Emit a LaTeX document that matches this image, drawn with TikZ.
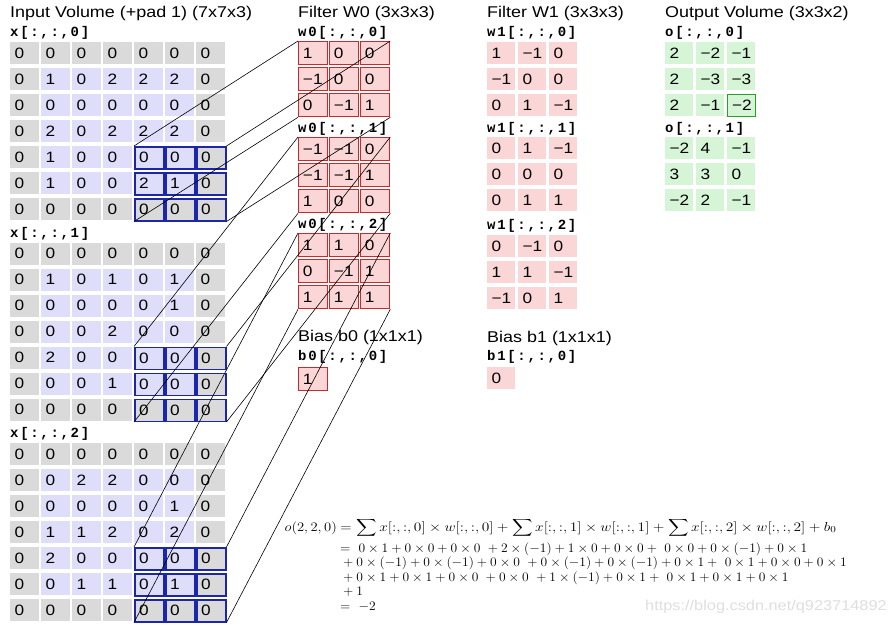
\RequirePackage{fix-cm}
\documentclass[tikz,border=0pt]{standalone}
\usepackage{exscale}
\usepackage[no-math]{fontspec}
\usepackage{graphicx}
\setmainfont{Liberation Sans}[FakeStretch=1.15]
\newfontfamily\monob{Liberation Mono}[LetterSpace=12]
\definecolor{padgray}{RGB}{218,218,218}
\definecolor{innerlav}{RGB}{222,222,250}
\definecolor{hlblue}{RGB}{28,38,168}
\definecolor{wfill}{RGB}{250,214,214}
\definecolor{wred}{RGB}{198,42,42}
\definecolor{ofill}{RGB}{214,245,214}
\definecolor{ogreen}{RGB}{40,160,40}
\newcommand\fxs[1]{\scalebox{1.04}[1]{#1}}
\newcommand\fxl[1]{\scalebox{1.185}[1]{#1}}
\newcommand\inrow[3]{%
  \foreach \v [count=\c from 0] in {#3}{%
    \pgfmathtruncatemacro\pd{((#2==0)||(#2==6)||(\c==0)||(\c==6))?1:0}%
    \pgfmathtruncatemacro\hl{((#2>3)&&(\c>3))?1:0}%
    \ifnum\pd=1 \def\cf{padgray}\else\def\cf{innerlav}\fi
    \ifnum\hl=1
      \node[incell, fill=\cf, hlcell] (x#1-#2-\c) at ({10+31*\c},{42+200.5*#1+26*#2}) {\v};
    \else
      \node[incell, fill=\cf] (x#1-#2-\c) at ({10+31*\c},{42+200.5*#1+26*#2}) {\v};
    \fi
  }}
\newcommand\crow[6]{%
  \foreach \v [count=\c from 0] in {#6}{%
    \node[#1] (#2-#5-\c) at ({#3+31*\c},{#4+26*#5}) {\v};}}
\begin{document}
\begin{tikzpicture}[x=1pt,y=-1pt,
  cellbase/.style={anchor=north west, minimum height=22pt, inner xsep=4.3pt, inner ysep=0pt,
    text width=20.4pt, align=left, font=\fontsize{15}{15}\selectfont},
  incell/.style={cellbase},
  hlcell/.style={draw=hlblue, line width=1.5pt},
  w0cell/.style={cellbase, fill=wfill, draw=wred, line width=1.3pt, minimum height=23pt},
  w1cell/.style={cellbase, fill=wfill, text width=19.4pt},
  ocell/.style={cellbase, fill=ofill, text width=19.4pt},
  olast/.style={ocell, draw=ogreen, line width=1.4pt},
  titlelab/.style={anchor=west, inner sep=0pt, font=\fontsize{15.6}{18}\selectfont},
  monolab/.style={anchor=west, inner sep=0pt, font=\monob\bfseries\fontsize{14}{16}\selectfont},
  conn/.style={draw=black, line width=0.6pt},
  fline/.style={anchor=base west, inner sep=0pt, font=\fontsize{13}{14}\selectfont},
  wmark/.style={anchor=west, inner sep=0pt, text=gray!25, font=\fontsize{14.2}{16}\selectfont}
]
\fill[white] (0,0) rectangle (889,626);
\useasboundingbox (0,0) rectangle (889,626);

% titles
\node[titlelab] (tin) at (10,13) {Input Volume (+pad 1) (7x7x3)};
\node[titlelab] (tw0) at (298,13) {Filter W0 (3x3x3)};
\node[titlelab] (tw1) at (487,13) {Filter W1 (3x3x3)};
\node[titlelab] (tout) at (665,13) {Output Volume (3x3x2)};
\node[titlelab] (tb0) at (298,337) {Bias b0 (1x1x1)};
\node[titlelab] (tb1) at (487,338) {Bias b1 (1x1x1)};

% slice labels
\node[monolab] (lx0) at (10,33) {x[:,:,0]};
\node[monolab] (lx1) at (10,234) {x[:,:,1]};
\node[monolab] (lx2) at (10,434) {x[:,:,2]};
\node[monolab] (lwa0) at (298,33) {w0[:,:,0]};
\node[monolab] (lwa1) at (298,129) {w0[:,:,1]};
\node[monolab] (lwa2) at (298,225) {w0[:,:,2]};
\node[monolab] (lwb0) at (487,33) {w1[:,:,0]};
\node[monolab] (lwb1) at (487,129) {w1[:,:,1]};
\node[monolab] (lwb2) at (487,226) {w1[:,:,2]};
\node[monolab] (lo0) at (665,33) {o[:,:,0]};
\node[monolab] (lo1) at (665,129) {o[:,:,1]};
\node[monolab] (lb0) at (298,357) {b0[:,:,0]};
\node[monolab] (lb1) at (487,357) {b1[:,:,0]};

% input volume
\inrow{0}{0}{0,0,0,0,0,0,0}
\inrow{0}{1}{0,1,0,2,2,2,0}
\inrow{0}{2}{0,0,0,0,0,0,0}
\inrow{0}{3}{0,2,0,2,2,2,0}
\inrow{0}{4}{0,1,0,0,0,0,0}
\inrow{0}{5}{0,1,0,0,2,1,0}
\inrow{0}{6}{0,0,0,0,0,0,0}
\inrow{1}{0}{0,0,0,0,0,0,0}
\inrow{1}{1}{0,1,0,1,0,1,0}
\inrow{1}{2}{0,0,0,0,0,1,0}
\inrow{1}{3}{0,0,0,2,0,0,0}
\inrow{1}{4}{0,2,0,0,0,0,0}
\inrow{1}{5}{0,0,0,1,0,0,0}
\inrow{1}{6}{0,0,0,0,0,0,0}
\inrow{2}{0}{0,0,0,0,0,0,0}
\inrow{2}{1}{0,0,2,2,0,0,0}
\inrow{2}{2}{0,0,0,0,0,1,0}
\inrow{2}{3}{0,1,1,2,0,2,0}
\inrow{2}{4}{0,2,0,0,0,0,0}
\inrow{2}{5}{0,0,1,1,0,1,0}
\inrow{2}{6}{0,0,0,0,0,0,0}

% filter W0
\crow{w0cell}{wA0}{298}{41}{0}{1,0,0}
\crow{w0cell}{wA0}{298}{41}{1}{−1,0,0}
\crow{w0cell}{wA0}{298}{41}{2}{0,−1,1}
\crow{w0cell}{wA1}{298}{137}{0}{−1,−1,0}
\crow{w0cell}{wA1}{298}{137}{1}{−1,−1,1}
\crow{w0cell}{wA1}{298}{137}{2}{1,0,0}
\crow{w0cell}{wA2}{298}{233}{0}{1,1,0}
\crow{w0cell}{wA2}{298}{233}{1}{0,−1,1}
\crow{w0cell}{wA2}{298}{233}{2}{1,1,1}
\node[w0cell] (b0c) at (298,367) {1};

% filter W1
\crow{w1cell}{wB0}{487}{42}{0}{1,−1,0}
\crow{w1cell}{wB0}{487}{42}{1}{−1,0,0}
\crow{w1cell}{wB0}{487}{42}{2}{0,1,−1}
\crow{w1cell}{wB1}{487}{137}{0}{0,1,−1}
\crow{w1cell}{wB1}{487}{137}{1}{0,0,0}
\crow{w1cell}{wB1}{487}{137}{2}{0,1,1}
\crow{w1cell}{wB2}{487}{235}{0}{0,−1,0}
\crow{w1cell}{wB2}{487}{235}{1}{1,1,−1}
\crow{w1cell}{wB2}{487}{235}{2}{−1,0,1}
\node[w1cell] (b1c) at (487,367) {0};

% output volume
\crow{ocell}{oA}{665}{42}{0}{2,−2,−1}
\crow{ocell}{oA}{665}{42}{1}{2,−3,−3}
\node[ocell] (oA-2-0) at (665,94) {2};
\node[ocell] (oA-2-1) at (696,94) {−1};
\node[olast] (oA-2-2) at (727,94) {−2};
\crow{ocell}{oB}{665}{137}{0}{−2,4,−1}
\crow{ocell}{oB}{665}{137}{1}{3,3,0}
\crow{ocell}{oB}{665}{137}{2}{−2,2,−1}

% connectors
\foreach \b in {0,1,2}{
  \draw[conn] (x\b-4-4.north west) -- (wA\b-0-0.north west);
  \draw[conn] (x\b-4-6.north east) -- (wA\b-0-2.north east);
  \draw[conn] (x\b-6-4.south west) -- (wA\b-2-0.south west);
  \draw[conn] (x\b-6-6.south east) -- (wA\b-2-2.south east);
}

% formula
\node[fline, anchor=base east] (flhs) at (337,531) {\scalebox{1.12}[1]{$o(2,2,0)$}};
\node[fline] (f1) at (340,531) {\fxl{$\displaystyle=\sum x[:,:,0]\times w[:,:,0] + \sum x[:,:,1] \times w[:,:,1] + \sum x[:,:,2]\times w[:,:,2] + b_0$}};
\node[fline] (f2) at (340,552) {\fxs{$=\ 0\times1 + 0\times0 + 0\times0 \ + 2 \times (-1) + 1\times0 + 0\times0 + \ 0\times0 + 0\times(-1) + 0\times1$}};
\node[fline] (f3) at (340,566) {\fxs{${}+ 0\times(-1) + 0\times(-1) + 0\times0 \ + 0 \times (-1) + 0\times(-1) + 0\times1 + \ 0\times1 + 0\times0 + 0\times1$}};
\node[fline] (f4) at (340,581) {\fxs{${}+ 0\times1 + 0\times1 + 0\times0 \ + 0 \times0 \ + 1\times(-1) + 0\times1 + \ 0\times1 + 0\times1 + 0\times1$}};
\node[fline] (f5) at (340,595) {\fxs{${}+ 1$}};
\node[fline] (f6) at (340,610) {\fxs{$=\ -2$}};

% watermark
\node[wmark] (wm) at (645,607) {https://blog.csdn.net/q923714892};
\end{tikzpicture}
\end{document}
